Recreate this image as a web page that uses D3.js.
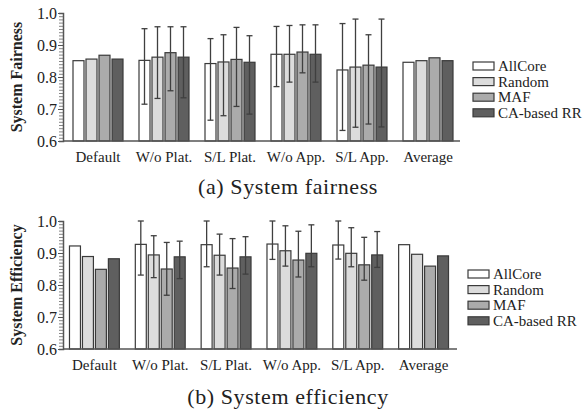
<!DOCTYPE html>
<html>
<head>
<meta charset="utf-8">
<script src="https://cdn.jsdelivr.net/npm/d3@7"></script>
<style>
  body { margin: 0; background: #fff; }
  svg text { font-family: "Liberation Serif", "Times New Roman", serif; fill: #222; }
</style>
</head>
<body>
<div id="chart"></div>
<script>
//////////////// DATA ////////////////

var categories = ["Default", "W/o Plat.", "S/L Plat.", "W/o App.", "S/L App.", "Average"];
var seriesNames = ["AllCore", "Random", "MAF", "CA-based RR"];
var yTickLabels = ["0.6", "0.7", "0.8", "0.9", "1.0"];

// System fairness: one array per series, one value per category
var fairAllCore = [0.851, 0.852, 0.842, 0.871, 0.822, 0.846];
var fairRandom  = [0.856, 0.862, 0.847, 0.871, 0.831, 0.851];
var fairMAF     = [0.868, 0.876, 0.855, 0.878, 0.837, 0.860];
var fairCARR    = [0.856, 0.862, 0.846, 0.871, 0.831, 0.851];
// error bar low / high (null = no error bar)
var fairAllCoreLo = [null, 0.715, 0.665, 0.770, 0.633, null];
var fairAllCoreHi = [null, 0.951, 0.920, 0.958, 0.967, null];
var fairRandomLo  = [null, 0.733, 0.679, 0.784, 0.643, null];
var fairRandomHi  = [null, 0.957, 0.932, 0.961, 0.981, null];
var fairMAFLo     = [null, 0.757, 0.708, 0.813, 0.653, null];
var fairMAFHi     = [null, 0.957, 0.955, 0.963, 0.932, null];
var fairCARRLo    = [null, 0.735, 0.684, 0.784, 0.644, null];
var fairCARRHi    = [null, 0.957, 0.929, 0.963, 0.981, null];

// System efficiency
var effAllCore = [0.922, 0.927, 0.926, 0.928, 0.925, 0.926];
var effRandom  = [0.889, 0.894, 0.893, 0.907, 0.899, 0.896];
var effMAF     = [0.849, 0.850, 0.853, 0.878, 0.863, 0.859];
var effCARR    = [0.882, 0.888, 0.888, 0.899, 0.894, 0.891];
var effAllCoreLo = [null, 0.831, 0.857, 0.880, 0.881, null];
var effAllCoreHi = [null, 1.000, 1.000, 1.000, 1.000, null];
var effRandomLo  = [null, 0.823, 0.831, 0.859, 0.857, null];
var effRandomHi  = [null, 0.954, 0.959, 0.985, 0.979, null];
var effMAFLo     = [null, 0.768, 0.789, 0.825, 0.815, null];
var effMAFHi     = [null, 0.933, 0.945, 0.968, 0.949, null];
var effCARRLo    = [null, 0.820, 0.834, 0.857, 0.855, null];
var effCARRHi    = [null, 0.937, 0.951, 0.988, 0.967, null];

//////////////// STYLE ////////////////

var barColors = ["#ffffff", "#dcdcdc", "#ababab", "#5f5f5f"],
    barStroke = "#3a3a3a",
    errColor = "#3f3f3f",
    axisColor = "#555";

var svg = d3.select("#chart").append("svg")
    .attr("width", 583)
    .attr("height", 413);

//////////////// PANEL ////////////////

var drawPanel = function(opts) {
    var g = svg.append("g");

    var y = d3.scaleLinear().domain([0.6, 1.0]).range([opts.yBottom, opts.yTop]);

    var x0 = d3.scaleBand()
        .domain(categories)
        .range(opts.xRange)
        .paddingInner(14 / 66)
        .paddingOuter(7 / 66);

    var x1 = d3.scaleBand()
        .domain(seriesNames)
        .range([0, x0.bandwidth()])
        .paddingInner(2 / 13)
        .paddingOuter(1 / 13);

    // Build rows from the named arrays
    var rows = [];
    categories.forEach(function(c, i) {
        seriesNames.forEach(function(s, j) {
            rows.push({
                cat: c, series: s, idx: j,
                v: opts.values[j][i],
                lo: opts.lows[j][i],
                hi: opts.highs[j][i]
            });
        });
    });

    // Bars
    g.selectAll("rect.bar")
        .data(rows)
        .enter()
        .append("rect")
        .attr("class", "bar")
        .attr("x", function(d) { return x0(d.cat) + x1(d.series); })
        .attr("width", x1.bandwidth())
        .attr("y", function(d) { return y(d.v); })
        .attr("height", function(d) { return y(0.6) - y(d.v); })
        .attr("fill", function(d) { return barColors[d.idx]; })
        .attr("stroke", barStroke)
        .attr("stroke-width", 1.2);

    // Error bars
    var errRows = rows.filter(function(d) { return d.lo !== null; });
    var eg = g.selectAll("g.err")
        .data(errRows)
        .enter()
        .append("g")
        .attr("class", "err")
        .attr("stroke", errColor)
        .attr("stroke-width", 1.3);
    var cx = function(d) { return x0(d.cat) + x1(d.series) + x1.bandwidth() / 2; };
    eg.append("line")
        .attr("x1", cx).attr("x2", cx)
        .attr("y1", function(d) { return y(d.lo); })
        .attr("y2", function(d) { return y(d.hi); });
    eg.append("line")
        .attr("x1", function(d) { return cx(d) - 3; })
        .attr("x2", function(d) { return cx(d) + 3; })
        .attr("y1", function(d) { return y(d.hi); })
        .attr("y2", function(d) { return y(d.hi); });
    eg.append("line")
        .attr("x1", function(d) { return cx(d) - 3; })
        .attr("x2", function(d) { return cx(d) + 3; })
        .attr("y1", function(d) { return y(d.lo); })
        .attr("y2", function(d) { return y(d.lo); });

    // Y axis: minor ticks every 0.01, major labelled
    var minor = d3.axisLeft(y).ticks(40).tickSize(4).tickFormat("");
    g.append("g")
        .attr("transform", "translate(" + opts.axisX + ",0)")
        .call(minor)
        .call(function(a) {
            a.select(".domain").attr("stroke", axisColor).attr("stroke-width", 1.5);
            a.selectAll(".tick line").attr("stroke", "#666").attr("stroke-width", 0.8);
        });

    var major = d3.axisLeft(y)
        .tickValues(yTickLabels.map(Number))
        .tickSize(5)
        .tickPadding(1)
        .tickFormat(function(d, i) { return yTickLabels[i]; });
    g.append("g")
        .attr("transform", "translate(" + opts.axisX + ",0)")
        .call(major)
        .call(function(a) {
            a.select(".domain").remove();
            a.selectAll(".tick line").attr("stroke", axisColor).attr("stroke-width", 1);
            a.selectAll(".tick text")
                .style("font-family", "Liberation Serif, serif")
                .style("font-size", "16px")
                .attr("fill", "#222");
        });

    // X axis baseline
    g.append("line")
        .attr("x1", opts.axisX).attr("x2", opts.xEnd)
        .attr("y1", y(0.6)).attr("y2", y(0.6))
        .attr("stroke", axisColor).attr("stroke-width", 1.5);

    // Category labels
    g.selectAll("text.cat")
        .data(categories)
        .enter()
        .append("text")
        .attr("class", "cat")
        .attr("x", function(d) { return x0(d) + x0.bandwidth() / 2; })
        .attr("y", y(0.6) + 21)
        .attr("text-anchor", "middle")
        .style("font-size", "15px")
        .text(function(d) { return d; });

    // Y title
    g.append("text")
        .attr("transform", "translate(" + 22 + "," + ((opts.yTop + opts.yBottom) / 2) + ") rotate(-90)")
        .attr("text-anchor", "middle")
        .style("font-size", "16px")
        .style("font-weight", "bold")
        .text(opts.yTitle);

    // Legend
    var lg = g.selectAll("g.leg")
        .data(seriesNames)
        .enter()
        .append("g")
        .attr("class", "leg")
        .attr("transform", function(d, i) {
            return "translate(" + opts.legendX + "," + (opts.legendY + i * 15.6) + ")";
        });
    lg.append("rect")
        .attr("x", 0).attr("y", -4)
        .attr("width", 21).attr("height", 8)
        .attr("fill", function(d, i) { return barColors[i]; })
        .attr("stroke", barStroke)
        .attr("stroke-width", 1.2);
    lg.append("text")
        .attr("x", 25).attr("y", 5)
        .style("font-size", "15px")
        .text(function(d) { return d; });

    // Caption
    svg.append("text")
        .attr("x", opts.captionX)
        .attr("y", opts.captionY)
        .attr("text-anchor", "middle")
        .style("font-size", "22px")
        .style("letter-spacing", "0.6px")
        .text(opts.caption);
};

drawPanel({
    values: [fairAllCore, fairRandom, fairMAF, fairCARR],
    lows:   [fairAllCoreLo, fairRandomLo, fairMAFLo, fairCARRLo],
    highs:  [fairAllCoreHi, fairRandomHi, fairMAFHi, fairCARRHi],
    yTop: 13, yBottom: 141,
    xRange: [65, 461], axisX: 63, xEnd: 460,
    yTitle: "System Fairness",
    legendX: 473, legendY: 66,
    caption: "(a) System fairness", captionX: 288, captionY: 194
});

drawPanel({
    values: [effAllCore, effRandom, effMAF, effCARR],
    lows:   [effAllCoreLo, effRandomLo, effMAFLo, effCARRLo],
    highs:  [effAllCoreHi, effRandomHi, effMAFHi, effCARRHi],
    yTop: 221, yBottom: 349,
    xRange: [61.5, 456.5], axisX: 63, xEnd: 457,
    yTitle: "System Efficiency",
    legendX: 468, legendY: 274,
    caption: "(b) System efficiency", captionX: 288, captionY: 404
});
</script>
</body>
</html>
